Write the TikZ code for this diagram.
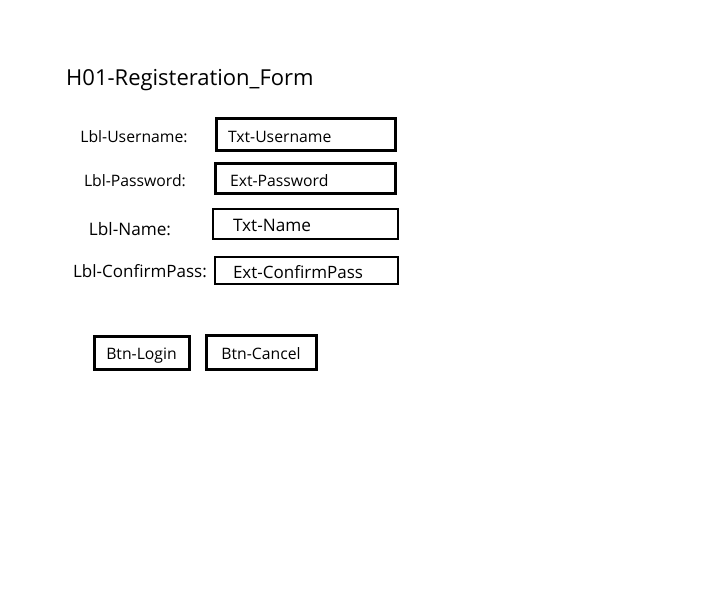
\documentclass[tikz,border=0pt]{standalone}
\usepackage{fontspec}
\setmainfont{Open Sans}
\begin{document}
\begin{tikzpicture}[x=1pt,y=-1pt]
        % Setup the styles for the form
        \tikzset{lbl style/.style={inner sep=0pt,
                                   font=\fontsize{15.75}{18}\selectfont},
                 field style/.style={draw,
                                     line width=3pt,
                                     inner ysep=0pt,
                                     align=left,
                                     text height=15pt,
                                     text depth=0pt,
                                     font=\fontsize{15.75}{18}\selectfont},
                 btn style/.style={draw,
                                   line width=3pt,
                                   inner sep=0pt,
                                   text height=14pt,
                                   text depth=0pt,
                                   font=\fontsize{15.75}{18}\selectfont}}
        \useasboundingbox (0,0) rectangle (710,599);

        % Title
        \node[lbl style, anchor=west, font=\fontsize{22}{26}\selectfont] at (66,80) (title) {H01-Registeration\_Form};

        % Draw the labels
        \node[lbl style] at (134,137) (lbluser) {Lbl-Username:};
        \node[lbl style] at (135,181) (lblpass) {Lbl-Password:};
        \node[lbl style, font=\fontsize{17.2}{20}\selectfont] at (130,229) (lblname) {Lbl-Name:};
        \node[lbl style, font=\fontsize{17}{20}\selectfont] at (140,271) (lblconfirm) {Lbl-ConfirmPass:};

        % Draw the fields
        \node[field style, text width=155, inner xsep=12, minimum height=32] at (305.5,135) (txtuser) {Txt-Username};
        \node[field style, text width=150, inner xsep=15, minimum height=30] at (305,179) (extpass) {Ext-Password};
        \node[field style, line width=2pt, text width=145, inner xsep=20, minimum height=30, font=\fontsize{17.2}{20}\selectfont] at (305.5,224) (txtname) {Txt-Name};
        \node[field style, line width=2pt, text width=147, inner xsep=18, minimum height=27, font=\fontsize{17}{20}\selectfont] at (306.5,270.5) (extconfirm) {Ext-ConfirmPass};

        % Draw the buttons
        \node[btn style, minimum width=95, minimum height=33] at (141.5,352.5) (btnlogin) {Btn-Login};
        \node[btn style, minimum width=110, minimum height=34] at (261,352) (btncancel) {Btn-Cancel};
\end{tikzpicture}
\end{document}
